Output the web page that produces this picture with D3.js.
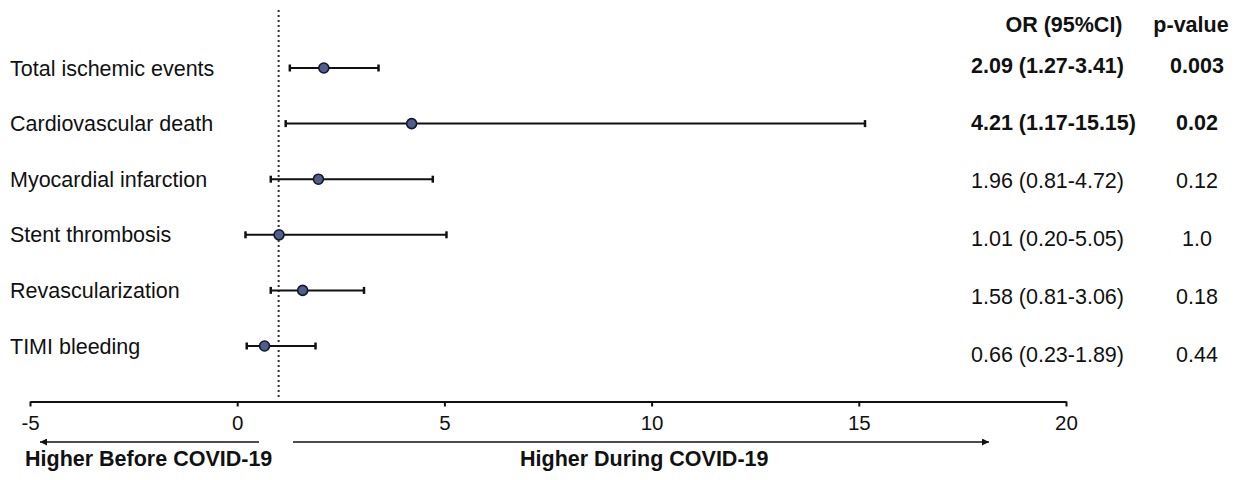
<!DOCTYPE html>
<html>
<head>
<meta charset="utf-8">
<script src="https://cdn.jsdelivr.net/npm/d3@7"></script>
<style>
  html, body { margin: 0; padding: 0; background: #fff; }
  svg { display: block; font-family: "Liberation Sans", Arial, sans-serif; }
</style>
</head>
<body>
<svg id="chart" width="1239" height="480"></svg>
<script>
// Outcomes and their odds ratios with 95% confidence intervals
const outcomes = [
  "Total ischemic events",
  "Cardiovascular death",
  "Myocardial infarction",
  "Stent thrombosis",
  "Revascularization",
  "TIMI bleeding"
];
const oddsRatio = [2.09, 4.21, 1.96, 1.01, 1.58, 0.66];
const ciLower   = [1.27, 1.17, 0.81, 0.20, 0.81, 0.23];
const ciUpper   = [3.41, 15.15, 4.72, 5.05, 3.06, 1.89];
const pValues   = ["0.003", "0.02", "0.12", "1.0", "0.18", "0.44"];
const xTicks    = [-5, 0, 5, 10, 15, 20];
const referenceValue = 1;

const svg = d3.select("#chart");

const x = d3.scaleLinear().domain([-5, 20]).range([30, 1066]);
const rowY = d3.scalePoint().domain(outcomes).range([68, 346]);
const textY = d3.scalePoint().domain(outcomes).range([65, 354]);

const rows = outcomes.map((name, i) => ({
  name,
  or: oddsRatio[i],
  lo: ciLower[i],
  hi: ciUpper[i],
  p: pValues[i],
  significant: +pValues[i] < 0.05
}));

// Reference line at OR = 1
svg.append("line")
  .attr("x1", x(referenceValue)).attr("x2", x(referenceValue))
  .attr("y1", 10).attr("y2", 398)
  .attr("stroke", "#333").attr("stroke-width", 2)
  .attr("stroke-dasharray", "2,3");

// Confidence interval whiskers
const g = svg.append("g");
const row = g.selectAll("g.row").data(rows).join("g").attr("class", "row");

row.append("line")
  .attr("x1", d => x(d.lo)).attr("x2", d => x(d.hi))
  .attr("y1", d => rowY(d.name)).attr("y2", d => rowY(d.name))
  .attr("stroke", "#111").attr("stroke-width", 2);

["lo", "hi"].forEach(k => {
  row.append("line")
    .attr("x1", d => x(d[k])).attr("x2", d => x(d[k]))
    .attr("y1", d => rowY(d.name) - 3.5).attr("y2", d => rowY(d.name) + 3.5)
    .attr("stroke", "#111").attr("stroke-width", 2.5);
});

// Point estimates
row.append("circle")
  .attr("cx", d => x(d.or)).attr("cy", d => rowY(d.name))
  .attr("r", 5)
  .attr("fill", "#505e8e").attr("stroke", "#15172a").attr("stroke-width", 1.6);

// Outcome labels
svg.append("g").selectAll("text").data(rows).join("text")
  .attr("x", 10).attr("y", d => rowY(d.name)).attr("dy", "0.35em")
  .attr("font-size", 21.5).attr("fill", "#111")
  .text(d => d.name);

// Column headers
svg.append("text")
  .attr("x", 1064).attr("y", 24).attr("dy", "0.35em")
  .attr("text-anchor", "middle").attr("font-size", 21.5).attr("font-weight", "bold")
  .attr("fill", "#111").text("OR (95%CI)");
svg.append("text")
  .attr("x", 1191).attr("y", 24).attr("dy", "0.35em")
  .attr("text-anchor", "middle").attr("font-size", 21.5).attr("font-weight", "bold")
  .attr("fill", "#111").text("p-value");

// OR (95% CI) column
svg.append("g").selectAll("text").data(rows).join("text")
  .attr("x", 971).attr("y", d => textY(d.name)).attr("dy", "0.35em")
  .attr("font-size", 21.5)
  .attr("font-weight", d => d.significant ? "bold" : "normal")
  .attr("fill", "#111")
  .text(d => `${d.or.toFixed(2)} (${d.lo.toFixed(2)}-${d.hi.toFixed(2)})`);

// p-value column
svg.append("g").selectAll("text").data(rows).join("text")
  .attr("x", 1197).attr("y", d => textY(d.name)).attr("dy", "0.35em")
  .attr("text-anchor", "middle")
  .attr("font-size", 21.5)
  .attr("font-weight", d => d.significant ? "bold" : "normal")
  .attr("fill", "#111")
  .text(d => d.p);

// X axis
const axis = svg.append("g")
  .attr("transform", "translate(0,401.5)")
  .call(d3.axisBottom(x).tickValues(xTicks).tickSize(5).tickSizeOuter(0).tickPadding(9)
    .tickFormat(d => String(d)));
axis.select(".domain").attr("stroke", "#111").attr("stroke-width", 2);
axis.selectAll(".tick line").attr("stroke", "#111").attr("stroke-width", 2);
axis.selectAll(".tick text")
  .attr("font-size", 20.5).attr("fill", "#111")
  .attr("font-family", "\"Liberation Sans\", Arial, sans-serif");

// Direction arrows
const defs = svg.append("defs");
defs.append("marker")
  .attr("id", "arrowhead")
  .attr("viewBox", "0 0 10 10")
  .attr("refX", 10).attr("refY", 5)
  .attr("markerWidth", 9).attr("markerHeight", 7)
  .attr("markerUnits", "userSpaceOnUse")
  .attr("orient", "auto")
  .append("path").attr("d", "M0,0 L10,5 L0,10 Z").attr("fill", "#111");

svg.append("line")
  .attr("x1", 259).attr("x2", 40).attr("y1", 442).attr("y2", 442)
  .attr("stroke", "#111").attr("stroke-width", 1.3)
  .attr("marker-end", "url(#arrowhead)");
svg.append("line")
  .attr("x1", 293).attr("x2", 989).attr("y1", 442).attr("y2", 442)
  .attr("stroke", "#111").attr("stroke-width", 1.3)
  .attr("marker-end", "url(#arrowhead)");

svg.append("text")
  .attr("x", 25).attr("y", 466)
  .attr("font-size", 21.5).attr("font-weight", "bold").attr("fill", "#111")
  .text("Higher Before COVID-19");
svg.append("text")
  .attr("x", 520).attr("y", 466)
  .attr("font-size", 21.5).attr("font-weight", "bold").attr("fill", "#111")
  .text("Higher During COVID-19");
</script>
</body>
</html>
